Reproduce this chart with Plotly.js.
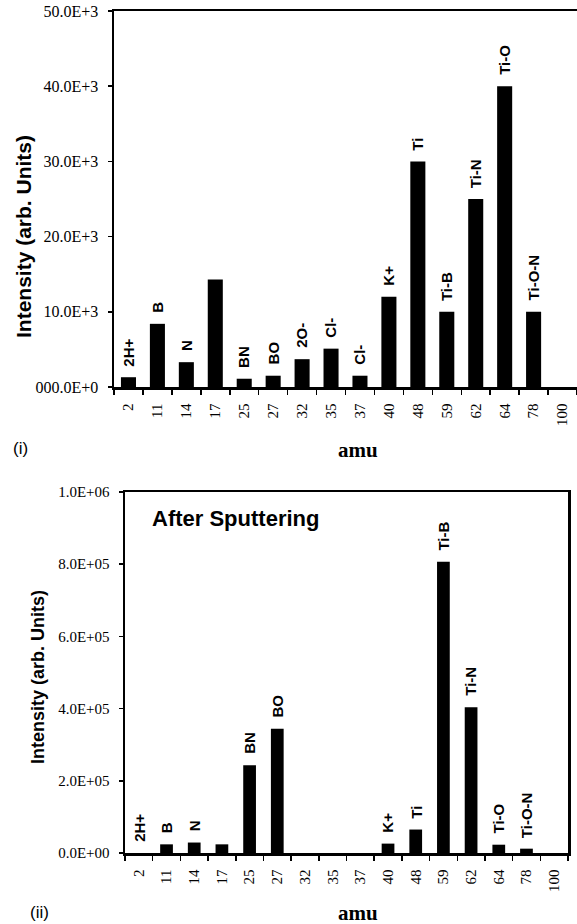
<!DOCTYPE html>
<html><head><meta charset="utf-8">
<script src="https://cdn.plot.ly/plotly-3.0.1.min.js"></script>
<style>html,body{margin:0;padding:0;background:#fff}#chart{width:577px;height:924px}</style>
</head><body><div id="chart"></div>
<script>
// ---- data ----
const amu = ["2","11","14","17","25","27","32","35","37","40","48","59","62","64","78","100"];
const beforeValues = [1300, 8400, 3300, 14300, 1100, 1500, 3700, 5100, 1500, 12000, 30000, 10000, 25000, 40000, 10000, 0];
const beforeLabels = ["2H+","B","N","","BN","BO","2O-","Cl-","Cl-","K+","Ti","Ti-B","Ti-N","Ti-O","Ti-O-N",""];
const afterValues = [0, 24000, 29000, 24000, 243000, 344000, 0, 0, 0, 26000, 65000, 807000, 404000, 23000, 12000, 0];
const afterLabels = ["2H+","B","N","","BN","BO","","","","K+","Ti","Ti-B","Ti-N","Ti-O","Ti-O-N",""];
const beforeTickVals = [0, 10000, 20000, 30000, 40000, 50000];
const beforeTickText = ["000.0E+0","10.0E+3","20.0E+3","30.0E+3","40.0E+3","50.0E+3"];
const afterTickVals = [0, 200000, 400000, 600000, 800000, 1000000];
const afterTickText = ["0.0E+00","2.0E+05","4.0E+05","6.0E+05","8.0E+05","1.0E+06"];

// ---- styling helpers ----
const W = 577, H = 924;
const px = v => v / W;
const py = v => 1 - v / H;
const SANS = "Liberation Sans";
const SERIF = "Liberation Serif";
const boldSans = size => ({family: SANS, size: size, color: "#000", weight: "bold"});

const traces = [
  {type: "bar", x: amu, y: beforeValues, xaxis: "x", yaxis: "y",
   marker: {color: "#000", line: {width: 0}}, width: 0.52, hoverinfo: "skip"},
  {type: "bar", x: amu, y: afterValues, xaxis: "x2", yaxis: "y2",
   marker: {color: "#000", line: {width: 0}}, width: 0.46, hoverinfo: "skip"}
];

function xAxis(domain, anchor) {
  return {domain: domain, anchor: anchor, type: "category", range: [-0.5, amu.length - 0.5],
    tickson: "boundaries", ticks: "outside", ticklen: 5, tickwidth: 1.5, tickcolor: "#000",
    showline: true, linewidth: 2.5, linecolor: "#000", mirror: true,
    tickangle: -90, ticklabelstandoff: 8,
    tickfont: {family: SERIF, size: 15, color: "#000"},
    showgrid: false, zeroline: false, fixedrange: true};
}
function yAxis(domain, anchor, vals, text, range, fs) {
  return {domain: domain, anchor: anchor, range: range, tickmode: "array",
    tickvals: vals, ticktext: text, ticks: "outside", ticklen: 4, tickwidth: 1.5, tickcolor: "#000",
    showline: true, linewidth: 2.5, linecolor: "#000", mirror: true, ticklabelstandoff: 6,
    tickfont: {family: SERIF, size: fs, color: "#000"},
    showgrid: false, zeroline: false, fixedrange: true};
}

const annotations = [];
function barLabels(values, labels, xr, yr) {
  values.forEach((v, i) => {
    if (!labels[i]) return;
    annotations.push({xref: xr, yref: yr, x: i, y: v, text: labels[i],
      textangle: -90, showarrow: false, xanchor: "center", yanchor: "bottom", yshift: 9,
      font: boldSans(15)});
  });
}
barLabels(beforeValues, beforeLabels, "x", "y");
barLabels(afterValues, afterLabels, "x2", "y2");

annotations.push(
  {xref: "paper", yref: "paper", x: px(23), y: py(237), xanchor: "center", yanchor: "middle",
   text: "Intensity (arb. Units)", textangle: -90, showarrow: false, font: boldSans(21)},
  {xref: "paper", yref: "paper", x: px(38), y: py(677), xanchor: "center", yanchor: "middle",
   text: "Intensity (arb. Units)", textangle: -90, showarrow: false, font: boldSans(18)},
  {xref: "paper", yref: "paper", x: px(358), y: py(450), xanchor: "center", yanchor: "middle",
   text: "amu", showarrow: false, font: {family: SERIF, size: 21, color: "#000", weight: "bold"}},
  {xref: "paper", yref: "paper", x: px(358), y: py(913), xanchor: "center", yanchor: "middle",
   text: "amu", showarrow: false, font: {family: SERIF, size: 21, color: "#000", weight: "bold"}},
  {xref: "paper", yref: "paper", x: px(20.5), y: py(448), xanchor: "center", yanchor: "middle",
   text: "(i)", showarrow: false, font: {family: SANS, size: 17, color: "#000"}},
  {xref: "paper", yref: "paper", x: px(39), y: py(912), xanchor: "center", yanchor: "middle",
   text: "(ii)", showarrow: false, font: {family: SANS, size: 17, color: "#000"}},
  {xref: "paper", yref: "paper", x: px(150), y: py(518), xanchor: "left", yanchor: "middle",
   text: "After Sputtering", showarrow: false, font: boldSans(22)}
);

const layout = {
  width: W, height: H, margin: {l: 0, r: 0, t: 0, b: 0},
  paper_bgcolor: "#fff", plot_bgcolor: "#fff", showlegend: false,
  xaxis: xAxis([px(114), 1], "y"),
  yaxis: yAxis([py(387), py(11)], "x", beforeTickVals, beforeTickText, [0, 50000], 16),
  xaxis2: xAxis([px(125), px(568)], "y2"),
  yaxis2: yAxis([py(853), py(492)], "x2", afterTickVals, afterTickText, [0, 1000000], 15),
  annotations: annotations
};

Plotly.newPlot("chart", traces, layout, {displayModeBar: false, staticPlot: true});
</script>
</body></html>
